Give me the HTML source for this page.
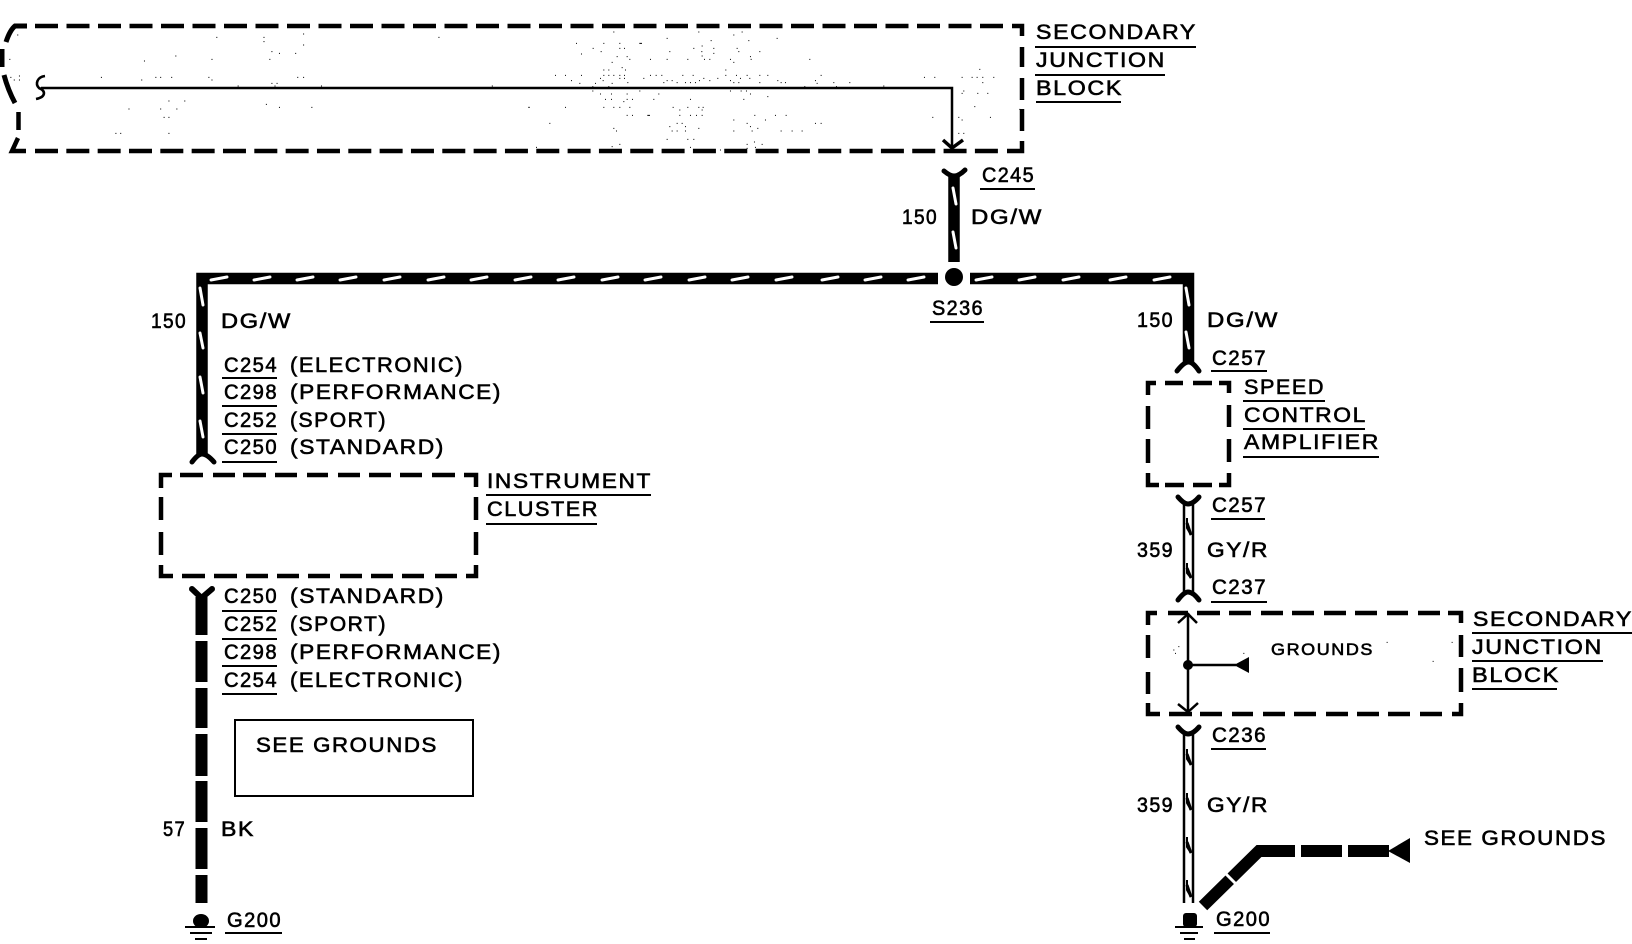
<!DOCTYPE html>
<html><head><meta charset="utf-8"><title>Wiring diagram</title>
<style>
html,body{margin:0;padding:0;background:#fff;width:1632px;height:944px;overflow:hidden}
svg{display:block}
text{font-family:"Liberation Sans",sans-serif;font-size:21px;fill:#000;stroke:#000;stroke-width:.6;letter-spacing:1.5px}
</style></head><body>
<svg width="1632" height="944" viewBox="0 0 1632 944" xmlns="http://www.w3.org/2000/svg">
<rect width="1632" height="944" fill="#fff"/>
<!-- speckles -->
<g fill="none" stroke="#000" stroke-width="3">
<path transform="translate(500 20) scale(.3333)" d="M340 36h3M500 55h3M595 36h3M700 45h3M725 36h3M830 55h3M745 62h3M632 62h3M228 70h3M310 70h3M358 70h3M418 70h8M605 78h3M580 85h3M640 85h3M278 85h3M302 95h3M358 85h3M372 85h3M508 95h3M604 95h3M640 100h3M710 85h3M715 95h3M778 95h3M243 102h3M350 110h3M380 110h3M388 118h3M450 118h3M500 118h3M562 118h3M612 118h3M628 118h3M605 108h3M690 118h3M700 127h3M750 110h3M752 118h3M928 118h3M335 127h3M365 143h3M310 150h3M325 150h3M375 150h3M676 150h3M1438 148h3M165 166h3M195 166h3M243 166h3M310 166h3M325 166h3M340 166h3M358 166h3M372 166h3M430 175h3M450 166h3M467 166h3M484 166h3M547 166h3M578 166h3M676 166h3M708 166h3M740 166h3M778 166h3M802 166h3M962 166h3M1272 172h3M1303 172h3M1385 172h3M1415 172h3M1430 172h3M1447 172h3M1480 172h3M213 182h3M300 175h3M308 182h3M358 175h3M372 175h3M382 188h3M490 188h3M500 182h3M515 182h3M530 188h3M555 188h3M570 188h3M585 188h3M597 182h3M610 175h3M628 182h3M652 175h3M690 182h3M700 188h3M720 175h3M715 188h3M748 175h3M778 188h3M832 182h3M842 188h3M855 188h3M945 182h3M950 190h3M1000 188h3M1048 188h3M1447 188h3M238 190h3M285 190h3M335 190h3M277 200h3M325 200h3M913 200h3M1008 200h3M1150 198h3M277 213h3M418 213h3M690 213h3M722 213h3M738 213h3M1390 213h3M1385 220h3M1432 220h3M1462 220h3M300 222h3M333 222h3M380 222h3M475 222h3M750 222h3M802 230h3M315 238h3M333 238h3M370 245h3M380 238h3M396 238h3M460 238h3M570 238h3M730 238h3M85 262h3M195 262h3M310 262h3M340 262h3M358 262h3M388 262h3M518 262h3M562 262h3M595 262h3M608 262h3M1423 260h3M1558 268h3M538 270h3M605 270h3M380 286h3M396 286h3M442 286h8M538 286h3M570 286h3M588 286h3M605 286h3M763 286h3M825 286h3M857 286h3M1297 292h3M1375 292h3M1470 292h3M1385 300h3M700 300h3M795 300h3M148 310h3M530 310h3M545 310h3M740 310h3M945 310h3M962 310h3M508 320h3M555 320h3M595 325h3M750 320h3M772 325h3M340 325h3M348 333h3M515 333h3M530 333h3M555 333h3M700 333h3M755 333h3M842 333h3M875 333h3M905 333h3M1375 340h3M1390 340h3M500 358h3M562 358h3M580 358h3M762 366h3M740 373h3M785 373h3M335 380h3M358 373h3M108 382h3M570 382h3M660 390h3M740 385h3M765 382h3"/>
<path transform="scale(.3444 .3333)" d="M628 112h3M765 112h3M765 125h3M880 102h3M880 135h3M788 155h3M810 160h3M857 160h3M782 178h3M614 178h3M509 168h3M418 183h3M27 178h3M50 105h3M293 232h3M410 240h3M451 232h3M465 232h3M497 232h3M605 232h3M614 240h3M863 232h3M880 232h3M788 250h3M803 250h3M797 258h3M690 258h3M932 258h3M1273 112h3M1428 258h3M489 303h3M535 303h3M373 327h3M465 327h3M512 327h3M475 352h3M489 352h3M772 313h3M810 322h3M904 322h3M1535 322h3M335 400h3M349 400h3M489 400h3M30 232h3M55 228h3M55 240h3M40 240h3"/>
<path transform="translate(1120 590) scale(.3333)" d="M160 180h3M175 170h3M165 190h3M370 190h3M800 157h3M995 157h3M938 214h3"/>
</g>
<g fill="none" stroke="#000" stroke-width="4.5">
<!-- top box -->
<path d="M35 26H1003" stroke-dasharray="23 8.5"/>
<path d="M35 151H998" stroke-dasharray="23 8.33"/>
<path d="M6 42Q10 30 15 26H27" stroke-width="5"/>
<path d="M2 49V67" stroke-width="5"/>
<path d="M4 75Q8 90 15 103" stroke-width="5"/>
<path d="M18.5 112V130"/>
<path d="M18 138L12 151H26"/>
<path d="M1012 26H1022V36M1022 47V67M1022 78V100M1022 109V131M1022 141V151H1007"/>
<!-- instrument cluster -->
<path d="M172 475H161V488M180 475H203M213 475H235M243 475H266M275 475H297M307 475H328M338 475H360M369 475H391M400 475H422M432 475H455M464 475H476V487"/>
<path d="M161 497V520M161 532V555M476 497V520M476 532V555"/>
<path d="M161 565V576H173M182 576H205M214 576H237M246 576H268M277 576H299M308 576H330M340 576H362M371 576H393M402 576H424M435 576H457M466 576H476V565"/>
<!-- speed box -->
<path d="M1148 395V383H1156M1165 383H1183M1193 383H1212M1219 383H1229V393M1148 406V429M1148 439V463M1229 405V427M1229 439V462M1148 473V485H1159M1165 485H1184M1193 485H1212M1219 485H1229V473"/>
<!-- secondary 2 -->
<path d="M1148 625V613H1157M1448 613H1461V623M1148 635V658M1148 672V694M1461 635V657M1461 668V692M1148 703V714H1160M1452 714H1461V703"/>
<path d="M1168 613H1188M1197 613H1220M1229 613H1251M1261 613H1283M1292 613H1314M1324 613H1346M1355 613H1377M1387 613H1408M1418 613H1440"/>
<path d="M1169 714H1192M1200 714H1222M1232 714H1253M1263 714H1285M1294 714H1316M1326 714H1348M1357 714H1379M1388 714H1410M1420 714H1442"/>
</g>
<!-- thin top wire -->
<g fill="none" stroke="#000">
<path d="M41 88H952V148" stroke-width="2.5"/>
<path d="M943 140L952 148L963 140" stroke-width="3.5"/>
<path d="M45 76C37 77 35 84 39 88C46 91 46 97 36 99" stroke-width="2.6"/>
</g>
<!-- thick wires -->
<g fill="none" stroke="#000" stroke-width="11.5">
<path d="M202 456V278.5H938"/>
<path d="M970 278.5H1188.5V362"/>
<path d="M954 176V262"/>
</g>
<circle cx="954" cy="277" r="9"/>
<g fill="none" stroke="#000" stroke-width="5" stroke-linecap="round">
<path d="M944 171Q950 176 954 176Q959 176 965 170"/>
<path d="M192 462Q198 454 202 454Q207 454 214 462"/>
<path d="M1177 371Q1184 362 1188.5 362Q1193 362 1199 371"/>
<path d="M1178 497Q1184 504 1188 504Q1193 504 1199 497"/>
<path d="M1178 600Q1184 592 1188 592Q1193 592 1199 600"/>
<path d="M1178 727Q1184 734 1188 734Q1193 734 1199 727"/>
<path d="M192 589L201.5 598L212 589" stroke-width="6"/>
</g>
<g fill="none" stroke="#fff" stroke-width="3" stroke-linecap="round">
<path d="M211 280l16-3M254 280l16-3M297 280l16-3M340 280l16-3M384 280l16-3M428 280l16-3M471 280l16-3M515 280l16-3M558 280l16-3M602 280l16-3M645 280l16-3M689 280l16-3M732 280l16-3M776 280l16-3M822 280l16-3M865 280l16-3M908 280l16-3M976 280l16-3M1019 280l16-3M1063 280l16-3M1110 280l16-3M1154 280l16-3"/>
<path d="M200 288l3 17M200 333l3 15M200 377l3 16M200 421l3 16"/>
<path d="M953 188l3 16M953 232l3 16"/>
<path d="M1186 288l3 17M1186 332l3 16"/>
</g>
<!-- grey/red wires -->
<g fill="none" stroke="#000" stroke-width="2.5">
<path d="M1184 504V593M1193 504V593M1184 734V903M1193 734V903"/>
<path stroke-width="2" d="M1187 518V528L1191 535M1187 563V573L1191 578M1187 749V759L1191 765M1187 793V803L1191 810M1187 837V847L1191 853M1187 880V890L1191 897"/>
<path stroke-width="3" d="M1187 523L1191 535M1187 568L1191 578M1187 754L1191 765M1187 798L1191 810M1187 842L1191 853M1187 885L1191 897"/>
<path d="M1188 613V712"/>
<path d="M1178 623L1188 614L1197 623M1178 704L1188 712L1198 703"/>
<path d="M1188 665H1236"/>
</g>
<circle cx="1188" cy="665" r="5"/>
<polygon points="1234,665 1249,657 1249,673"/>
<!-- see grounds thick -->
<g fill="none" stroke="#000" stroke-width="12">
<path d="M1203 906L1259 851H1295"/>
<path d="M1301 851H1342M1348 851H1389"/>
</g>
<path d="M1222 870L1236 884" stroke="#fff" stroke-width="3"/>
<polygon points="1388,851 1410,838 1410,863"/>
<!-- BK wire -->
<path d="M201.5 597V635M201.5 641V682M201.5 688V728M201.5 734V776M201.5 781V822M201.5 828V869M201.5 875V903" fill="none" stroke="#000" stroke-width="12"/>
<!-- grounds -->
<ellipse cx="201" cy="921" rx="8" ry="7"/>
<rect x="1183" y="913" width="14" height="14" rx="3"/>
<path d="M185 927H215M190 933H212M195 939H207M1175 927H1203M1180 933H1198M1184 939H1195" stroke="#000" stroke-width="2" fill="none"/>
<rect x="235" y="720" width="238" height="76" fill="none" stroke="#000" stroke-width="2"/>
<!-- underlines -->
<path fill="none" stroke="#000" stroke-width="2" d="M1035 47H1196M1035 75H1165M1036 102H1121M980 189H1035M930 322H984M222 378H277M222 406H277M222 434H277M222 462H277M486 495H651M486 524H597M222 611H277M222 639H277M222 666H277M222 694H277M225 933H282M1211 371H1267M1243 401H1325M1243 429H1365M1243 457H1379M1211 519H1265M1211 602H1267M1472 633H1632M1472 661H1603M1472 689H1557M1211 749H1266M1214 933H1270"/>
<!-- text -->
<text lengthAdjust="spacingAndGlyphs" x="1036" y="39" textLength="161">SECONDARY</text>
<text lengthAdjust="spacingAndGlyphs" x="1036" y="67" textLength="130">JUNCTION</text>
<text lengthAdjust="spacingAndGlyphs" x="1036" y="95" textLength="87">BLOCK</text>
<text lengthAdjust="spacingAndGlyphs" x="982" y="182" textLength="53">C245</text>
<text lengthAdjust="spacingAndGlyphs" x="902" y="224" textLength="36">150</text>
<text lengthAdjust="spacingAndGlyphs" x="971" y="224" textLength="72">DG/W</text>
<text lengthAdjust="spacingAndGlyphs" x="932" y="315" textLength="52">S236</text>
<text lengthAdjust="spacingAndGlyphs" x="151" y="328" textLength="36">150</text>
<text lengthAdjust="spacingAndGlyphs" x="221" y="328" textLength="71">DG/W</text>
<text lengthAdjust="spacingAndGlyphs" x="224" y="372" textLength="54">C254</text>
<text lengthAdjust="spacingAndGlyphs" x="290" y="372" textLength="174">(ELECTRONIC)</text>
<text lengthAdjust="spacingAndGlyphs" x="224" y="399" textLength="54">C298</text>
<text lengthAdjust="spacingAndGlyphs" x="290" y="399" textLength="212">(PERFORMANCE)</text>
<text lengthAdjust="spacingAndGlyphs" x="224" y="427" textLength="54">C252</text>
<text lengthAdjust="spacingAndGlyphs" x="290" y="427" textLength="97">(SPORT)</text>
<text lengthAdjust="spacingAndGlyphs" x="224" y="454" textLength="54">C250</text>
<text lengthAdjust="spacingAndGlyphs" x="290" y="454" textLength="155">(STANDARD)</text>
<text lengthAdjust="spacingAndGlyphs" x="487" y="488" textLength="165">INSTRUMENT</text>
<text lengthAdjust="spacingAndGlyphs" x="487" y="516" textLength="112">CLUSTER</text>
<text lengthAdjust="spacingAndGlyphs" x="224" y="603" textLength="54">C250</text>
<text lengthAdjust="spacingAndGlyphs" x="290" y="603" textLength="155">(STANDARD)</text>
<text lengthAdjust="spacingAndGlyphs" x="224" y="631" textLength="54">C252</text>
<text lengthAdjust="spacingAndGlyphs" x="290" y="631" textLength="97">(SPORT)</text>
<text lengthAdjust="spacingAndGlyphs" x="224" y="659" textLength="54">C298</text>
<text lengthAdjust="spacingAndGlyphs" x="290" y="659" textLength="212">(PERFORMANCE)</text>
<text lengthAdjust="spacingAndGlyphs" x="224" y="687" textLength="54">C254</text>
<text lengthAdjust="spacingAndGlyphs" x="290" y="687" textLength="174">(ELECTRONIC)</text>
<text lengthAdjust="spacingAndGlyphs" x="256" y="752" textLength="182">SEE GROUNDS</text>
<text lengthAdjust="spacingAndGlyphs" x="163" y="836" textLength="23">57</text>
<text lengthAdjust="spacingAndGlyphs" x="221" y="836" textLength="34">BK</text>
<text lengthAdjust="spacingAndGlyphs" x="227" y="927" textLength="55">G200</text>
<text lengthAdjust="spacingAndGlyphs" x="1137" y="327" textLength="37">150</text>
<text lengthAdjust="spacingAndGlyphs" x="1207" y="327" textLength="72">DG/W</text>
<text lengthAdjust="spacingAndGlyphs" x="1212" y="365" textLength="55">C257</text>
<text lengthAdjust="spacingAndGlyphs" x="1244" y="394" textLength="81">SPEED</text>
<text lengthAdjust="spacingAndGlyphs" x="1244" y="422" textLength="123">CONTROL</text>
<text lengthAdjust="spacingAndGlyphs" x="1244" y="449" textLength="136">AMPLIFIER</text>
<text lengthAdjust="spacingAndGlyphs" x="1212" y="512" textLength="55">C257</text>
<text lengthAdjust="spacingAndGlyphs" x="1137" y="557" textLength="37">359</text>
<text lengthAdjust="spacingAndGlyphs" x="1207" y="557" textLength="62">GY/R</text>
<text lengthAdjust="spacingAndGlyphs" x="1212" y="594" textLength="55">C237</text>
<text lengthAdjust="spacingAndGlyphs" x="1473" y="626" textLength="160">SECONDARY</text>
<text lengthAdjust="spacingAndGlyphs" x="1472" y="654" textLength="131">JUNCTION</text>
<text lengthAdjust="spacingAndGlyphs" x="1472" y="682" textLength="88">BLOCK</text>
<text lengthAdjust="spacingAndGlyphs" x="1271" y="655" textLength="103" style="font-size:17px">GROUNDS</text>
<text lengthAdjust="spacingAndGlyphs" x="1212" y="742" textLength="55">C236</text>
<text lengthAdjust="spacingAndGlyphs" x="1137" y="812" textLength="37">359</text>
<text lengthAdjust="spacingAndGlyphs" x="1207" y="812" textLength="62">GY/R</text>
<text lengthAdjust="spacingAndGlyphs" x="1424" y="845" textLength="183">SEE GROUNDS</text>
<text lengthAdjust="spacingAndGlyphs" x="1216" y="926" textLength="55">G200</text>
</svg>
</body></html>
